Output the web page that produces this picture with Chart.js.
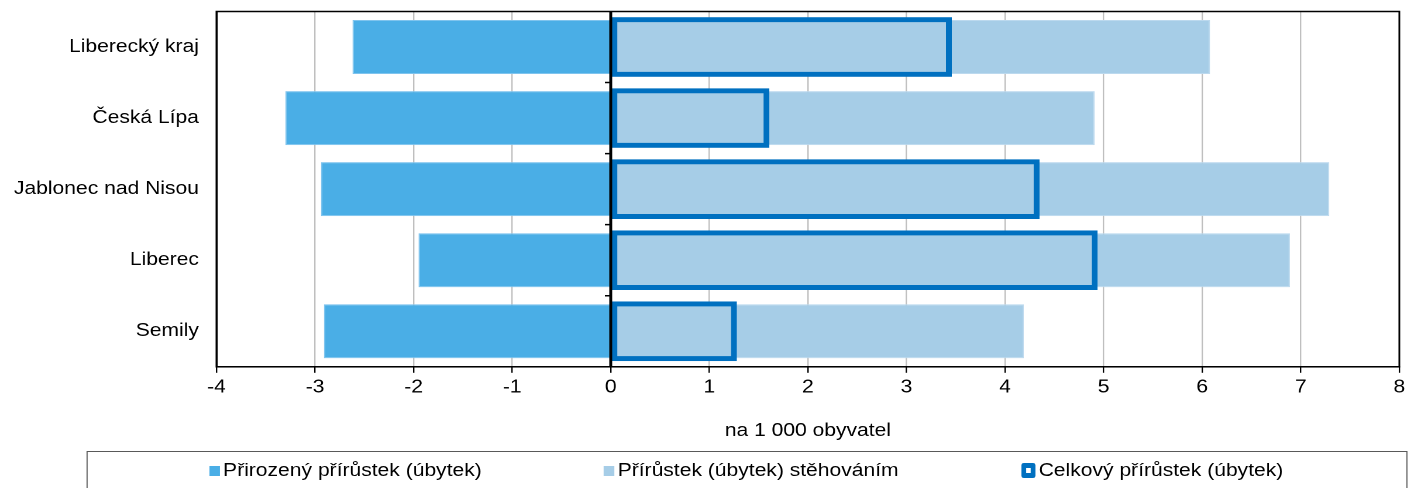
<!DOCTYPE html>
<html>
<head>
<meta charset="utf-8">
<script src="https://cdn.jsdelivr.net/npm/chart.js@4.4.0/dist/chart.umd.min.js"></script>
<style>
  html, body { margin: 0; padding: 0; background: #fff; overflow: hidden; }
  /* the original picture is stretched sideways, so the whole chart is too */
  #wrap { position: relative; width: 1205px; height: 488px; transform: scaleX(1.17); transform-origin: 0 0; }
  #box { position: absolute; left: 0; top: 0; width: 1205px; height: 446px; }
  #legend {
    position: absolute; left: 73.5px; top: 451px; width: 1129px; height: 60px;
    box-sizing: border-box; border: 1.5px solid #595959;
    display: flex; justify-content: space-evenly; align-items: flex-start; padding-top: 8px;
    font: 18px "Liberation Sans", Arial, sans-serif; color: #000;
  }
  .item { display: flex; align-items: center; white-space: nowrap; }
  .mark { display: inline-block; width: 8.5px; height: 10px; margin-right: 3px; }
  .mark.outline { width: 4px; height: 5px; border: 5px solid #0070C0; border-left-width: 4.5px; border-right-width: 4.5px; border-radius: 2px; background: #fff; }
</style>
</head>
<body>
<div id="wrap">
  <div id="box"><canvas id="chart"></canvas></div>
  <div id="legend"></div>
</div>
<script>
// okresy Libereckého kraje, na 1 000 obyvatel
const regions = ['Liberecký kraj', 'Česká Lípa', 'Jablonec nad Nisou', 'Liberec', 'Semily'];
const natural = [-2.62, -3.30, -2.94, -1.95, -2.91];
const migration = [6.08, 4.91, 7.29, 6.89, 4.19];
const total = [3.46, 1.61, 4.35, 4.94, 1.28];
const seriesNames = ['Přirozený přírůstek (úbytek)', 'Přírůstek (úbytek) stěhováním', 'Celkový přírůstek (úbytek)'];
const xMin = -4, xMax = 8;

// zero line, its small ticks between the categories and the frame round the plot
const axisFrame = {
  id: 'axisFrame',
  afterDatasetsDraw(chart) {
    const { ctx, chartArea: a, scales: { x, y } } = chart;
    const x0 = x.getPixelForValue(0);
    ctx.save();
    ctx.strokeStyle = '#000';
    ctx.lineWidth = 2.5;
    ctx.beginPath();
    ctx.moveTo(x0, a.top);
    ctx.lineTo(x0, a.bottom);
    ctx.stroke();
    ctx.lineWidth = 1.5;
    ctx.beginPath();
    for (let i = 0; i < y.ticks.length - 1; i++) {
      const yy = (y.getPixelForTick(i) + y.getPixelForTick(i + 1)) / 2;
      ctx.moveTo(x0 - 5, yy);
      ctx.lineTo(x0, yy);
    }
    ctx.stroke();
    ctx.strokeRect(a.left, a.top, a.width, a.height);
    ctx.restore();
  }
};

const font = { family: '"Liberation Sans", Arial, sans-serif', size: 18 };

const chart = new Chart(document.getElementById('chart'), {
  type: 'bar',
  data: {
    labels: regions,
    datasets: [{
      label: seriesNames[0],
      data: natural,
      backgroundColor: '#4AAEE6',
      borderColor: '#7FC4EE',
      borderWidth: 1,
      grouped: false,
      categoryPercentage: 1,
      barPercentage: 0.76
    }, {
      label: seriesNames[1],
      data: migration,
      backgroundColor: '#A6CDE7',
      borderColor: '#BCD9EE',
      borderWidth: 1,
      grouped: false,
      categoryPercentage: 1,
      barPercentage: 0.76
    }, {
      label: seriesNames[2],
      data: total,
      backgroundColor: 'rgba(0,0,0,0)',
      borderColor: '#0070C0',
      borderWidth: 5,
      borderSkipped: false,
      grouped: false,
      categoryPercentage: 1,
      barPercentage: 0.84,
      order: -1
    }]
  },
  options: {
    indexAxis: 'y',
    responsive: true,
    maintainAspectRatio: false,
    devicePixelRatio: 2,
    animation: false,
    layout: { padding: { top: 11.5, right: 8, left: 0, bottom: 0 } },
    plugins: {
      legend: { display: false },
      tooltip: { enabled: false }
    },
    scales: {
      x: {
        min: xMin,
        max: xMax,
        ticks: { stepSize: 1, color: '#000', font: font, padding: 4 },
        grid: { color: '#BFBFBF', lineWidth: 1.2, tickColor: '#000', tickLength: 6 },
        border: { display: true, color: '#000', width: 1.5 },
        title: { display: true, text: 'na 1 000 obyvatel', color: '#000', font: font, padding: { top: 18, bottom: 4 } }
      },
      y: {
        grid: { display: false, drawTicks: false },
        border: { display: true, color: '#000', width: 1.5 },
        ticks: { color: '#000', font: font, padding: 15 },
        afterFit(scale) {
          scale.width = 185;
          scale.paddingTop = 0;
          scale.paddingBottom = 0;
        }
      }
    }
  },
  plugins: [axisFrame]
});

// legend sits in its own box under the chart
const legendEl = document.getElementById('legend');
chart.data.datasets.forEach(ds => {
  const item = document.createElement('div');
  item.className = 'item';
  const mark = document.createElement('span');
  if (ds.backgroundColor === 'rgba(0,0,0,0)') {
    mark.className = 'mark outline';
  } else {
    mark.className = 'mark';
    mark.style.background = ds.backgroundColor;
  }
  const text = document.createElement('span');
  text.textContent = ds.label;
  item.appendChild(mark);
  item.appendChild(text);
  legendEl.appendChild(item);
});
</script>
</body>
</html>
